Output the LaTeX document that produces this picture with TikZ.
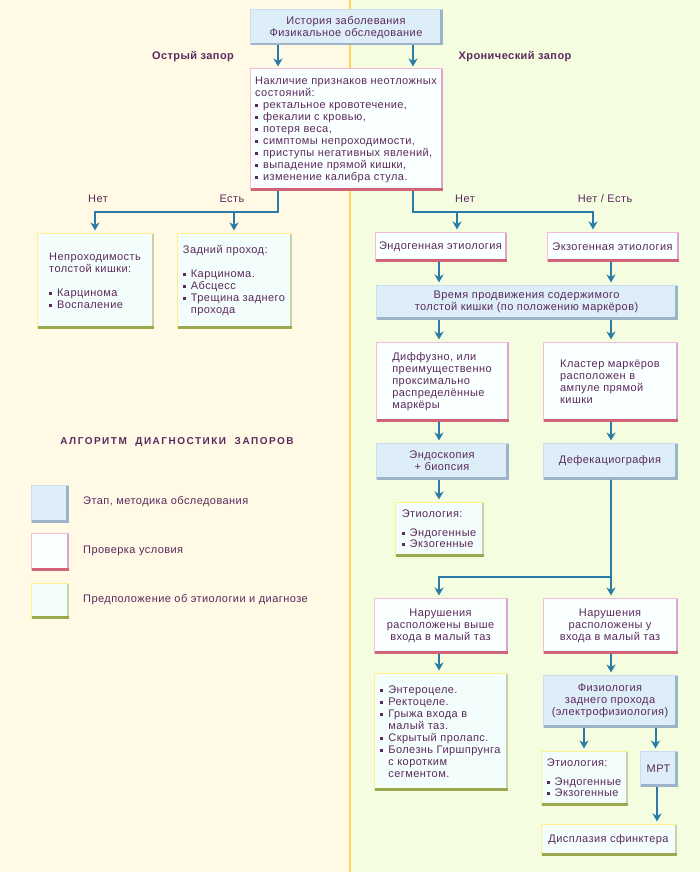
\documentclass[tikz,border=0pt]{standalone}
\usepackage{fontspec}
\setmainfont[LetterSpace=4]{Liberation Sans}
\usetikzlibrary{arrows.meta,calc}
\definecolor{txt}{HTML}{5A2A5C}
\definecolor{arrc}{HTML}{2B7BA9}
\definecolor{bgL}{HTML}{FFF9E6}
\definecolor{bgR}{HTML}{F4FDDF}
\definecolor{divc}{HTML}{FFD45A}
\definecolor{blueF}{HTML}{DDEEF8}
\definecolor{blueL}{HTML}{C9DDEE}
\definecolor{blueS}{HTML}{9DB3C9}
\definecolor{pinkF}{HTML}{FAFFFF}
\definecolor{pinkL}{HTML}{F4BCD9}
\definecolor{pinkR}{HTML}{D9A4D2}
\definecolor{pinkB}{HTML}{CF6478}
\definecolor{greenF}{HTML}{F3FDFC}
\definecolor{greenL}{HTML}{FFF08C}
\definecolor{greenR}{HTML}{C6D3A6}
\definecolor{greenB}{HTML}{9AA94E}
\newcommand{\myfs}{\fontsize{11}{12}\selectfont}
\newcommand{\mybul}{\rule[0.25ex]{0.5ex}{0.5ex}\hspace{5pt}}
\newcommand{\myind}{\phantom{\mybul}}
\begin{document}
\begin{tikzpicture}[x=1pt,y=-1pt,
  base/.style={text=txt,font=\myfs,inner sep=0pt,align=center},
  stagebox/.style={base,fill=blueF,draw=blueL,line width=1pt},
  condbox/.style={base,fill=pinkF,draw=pinkL,line width=1pt},
  diagbox/.style={base,fill=greenF,draw=greenL,line width=1pt},
  arr/.style={draw=arrc,line width=2pt,-{Stealth[length=8pt,width=9pt,inset=2.5pt]},shorten >=2pt},
  lbl/.style={text=txt,font=\myfs},
  hdr/.style={text=txt,font=\myfs\bfseries},
]
\useasboundingbox (0,0) rectangle (700,872);
\fill[bgL] (0,0) rectangle (350,872);
\fill[bgR] (350,0) rectangle (700,872);
\draw[divc,line width=2.5pt] (350,0) -- (350,872);

% headers
\node[hdr] (acute) at (193,57) {Острый запор};
\node[hdr] (chron) at (515,57) {Хронический запор};

% boxes
\node[stagebox,minimum width=192,minimum height=35] (hist) at (346,27.5) {История заболевания\\Физикальное обследование};
\node[condbox,align=left,minimum width=192,minimum height=121] (cond) at (346,129.5) {Накличие признаков неотложных\\состояний:\\\mybul ректальное кровотечение,\\\mybul фекалии с кровью,\\\mybul потеря веса,\\\mybul симптомы непроходимости,\\\mybul приступы негативных явлений,\\\mybul выпадение прямой кишки,\\\mybul изменение калибра стула.};
\node[diagbox,align=left,minimum width=116,minimum height=95] (obst) at (95,280.5) {Непроходимость\\толстой кишки:\\[12pt]\mybul Карцинома\\\mybul Воспаление};
\node[diagbox,align=left,minimum width=114,minimum height=95] (anal) at (234,280.5) {Задний проход:\\[12pt]\mybul Карцинома.\\\mybul Абсцесс\\\mybul Трещина заднего\\\myind прохода};

\node[condbox,minimum width=131,minimum height=29] (endog) at (440.5,246.5) {Эндогенная этиология};
\node[condbox,minimum width=131,minimum height=29] (exog) at (612.5,246.5) {Экзогенная этиология};
\node[stagebox,minimum width=301,minimum height=34] (time) at (526.5,302) {Время продвижения содержимого\\толстой кишки (по положению маркёров)};
\node[condbox,align=left,minimum width=132,minimum height=79] (diff) at (442,381.5) {Диффузно, или\\преимущественно\\проксимально\\распределённые\\маркёры};
\node[condbox,align=left,minimum width=134,minimum height=79] (clust) at (610,381.5) {Кластер маркёров\\расположен в\\ампуле прямой\\кишки};
\node[stagebox,minimum width=132,minimum height=36] (endo) at (442,461) {Эндоскопия\\+ биопсия};
\node[stagebox,minimum width=134,minimum height=36] (defek) at (610,461) {Дефекациография};
\node[diagbox,align=left,minimum width=88,minimum height=54] (etioA) at (439,529) {Этиология:\\[7pt]\mybul Эндогенные\\[-1pt]\mybul Экзогенные};
\node[condbox,minimum width=133,minimum height=55] (upper) at (440.5,625.5) {Нарушения\\расположены выше\\входа в малый таз};
\node[condbox,minimum width=134,minimum height=55] (entry) at (610,625.5) {Нарушения\\расположены у\\входа в малый таз};
\node[diagbox,align=left,minimum width=133,minimum height=117] (list) at (440.5,731.5) {\mybul Энтероцеле.\\\mybul Ректоцеле.\\\mybul Грыжа входа в\\\myind малый таз.\\\mybul Скрытый пролапс.\\\mybul Болезнь Гиршпрунга\\\myind с коротким\\\myind сегментом.};
\node[stagebox,minimum width=134,minimum height=52] (physio) at (610,701) {Физиология\\заднего прохода\\(электрофизиология)};
\node[diagbox,align=left,minimum width=86,minimum height=54] (etioB) at (584,778) {Этиология:\\[7pt]\mybul Эндогенные\\[-1pt]\mybul Экзогенные};
\node[stagebox,minimum width=37,minimum height=35] (mrt) at (658.5,768.5) {МРТ};
\node[diagbox,minimum width=135,minimum height=31] (dysp) at (608.5,839.5) {Дисплазия сфинктера};

% legend
\node[hdr,font=\fontsize{10}{12}\selectfont\bfseries] (title) at (177,442) {\addfontfeature{LetterSpace=15}АЛГОРИТМ\ \ ДИАГНОСТИКИ\ \ ЗАПОРОВ};
\node[stagebox,minimum width=37,minimum height=37] (legA) at (49.5,503.5) {};
\node[condbox,minimum width=37,minimum height=37] (legB) at (49.5,551.5) {};
\node[diagbox,minimum width=37,minimum height=35] (legC) at (49.5,600.5) {};
\node[lbl,anchor=west,inner sep=0pt] (legAt) at (83,502) {Этап, методика обследования};
\node[lbl,anchor=west,inner sep=0pt] (legBt) at (83,551) {Проверка условия};
\node[lbl,anchor=west,inner sep=0pt] (legCt) at (83,600) {Предположение об этиологии и диагнозе};

% shadows
\foreach \n in {hist,time,endo,defek,physio,mrt,legA}
  \draw[blueS,line width=2.5pt] ([shift={(-1.25,1)}]\n.north east) -- ([shift={(-1.25,-1.25)}]\n.south east) -- ([shift={(1,-1.25)}]\n.south west);
\foreach \n in {cond,endog,exog,diff,clust,upper,entry,legB}{
  \draw[pinkR,line width=2pt] ([shift={(-1,1)}]\n.north east) -- ([shift={(-1,0)}]\n.south east);
  \draw[pinkB,line width=3pt] ([shift={(1,-1.5)}]\n.south west) -- ([shift={(0,-1.5)}]\n.south east);
}
\foreach \n in {obst,anal,etioA,list,etioB,dysp,legC}{
  \draw[greenR,line width=2pt] ([shift={(-1,1)}]\n.north east) -- ([shift={(-1,0)}]\n.south east);
  \draw[greenB,line width=3pt] ([shift={(1,-1.5)}]\n.south west) -- ([shift={(0,-1.5)}]\n.south east);
}

% labels
\node[lbl] (no1) at (98,199) {Нет};
\node[lbl] (yes1) at (232,199) {Есть};
\node[lbl] (no2) at (465,199) {Нет};
\node[lbl] (noyes) at (605,199) {Нет / Есть};

% connectors
\coordinate (colL) at (439,0);
\coordinate (colR) at (611,0);
\draw[arr] ([xshift=-68pt]hist.south) -- ([xshift=-68pt]cond.north);
\draw[arr] ([xshift=67pt]hist.south) -- ([xshift=67pt]cond.north);
\draw[arr] ([xshift=-68pt]cond.south) |- ($(obst.north)+(0,-21)$) -- (obst.north);
\draw[arr] ($(anal.north)+(0,-21)$) -- (anal.north);
\draw[arr] ([xshift=67pt]cond.south) |- ($(exog.north)+(-19.5,-20)$) -- ($(exog.north)+(-19.5,0)$);
\draw[arr] ($(endog.north)+(16.5,-20)$) -- ($(endog.north)+(16.5,0)$);
\draw[arr] (endog.south -| colL) -- (time.north -| colL);
\draw[arr] (exog.south -| colR) -- (time.north -| colR);
\draw[arr] (time.south -| colL) -- (diff.north -| colL);
\draw[arr] (time.south -| colR) -- (clust.north -| colR);
\draw[arr] (diff.south -| colL) -- (endo.north -| colL);
\draw[arr] (clust.south -| colR) -- (defek.north -| colR);
\draw[arr] (endo.south -| colL) -- (etioA.north -| colL);
\draw[arr] (defek.south -| colR) -- (entry.north -| colR);
\draw[arr] (defek.south -| colR) |- ($(upper.north -| colL)+(0,-21)$) -- (upper.north -| colL);
\draw[arr] (upper.south -| colL) -- (list.north -| colL);
\draw[arr] (entry.south -| colR) -- (physio.north -| colR);
\draw[arr] (physio.south -| etioB.north) -- (etioB.north);
\coordinate (mrtin) at ($(mrt.north)+(-3,0)$);
\draw[arr] (physio.south -| mrtin) -- (mrtin);
\coordinate (mrtout) at ($(mrt.south)+(-1.5,0)$);
\draw[arr] (mrtout) -- (mrtout |- dysp.north);
\end{tikzpicture}
\end{document}
